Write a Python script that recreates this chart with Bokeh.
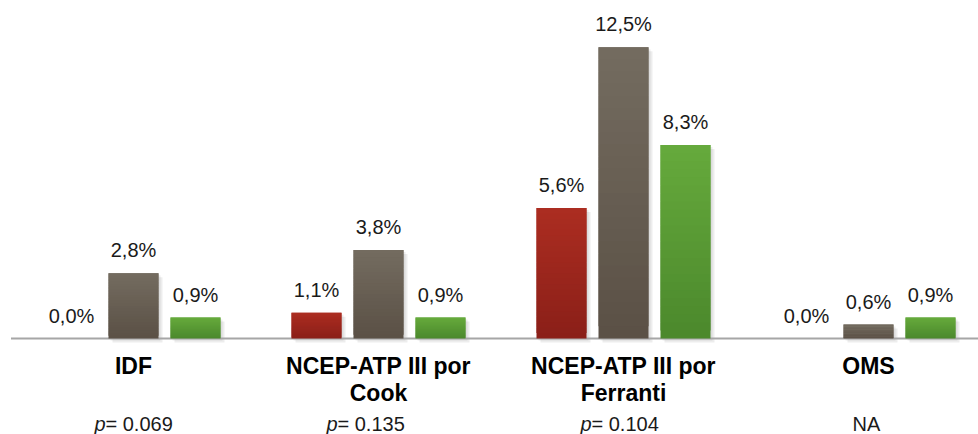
from bokeh.plotting import figure
from bokeh.models import Range1d, ColumnDataSource
from bokeh.core.properties import value
from bokeh.embed import file_html
from bokeh.resources import INLINE

# ---- data ----
categories = ["IDF", "NCEP-ATP III por\nCook", "NCEP-ATP III por\nFerranti", "OMS"]
series_red = [0.0, 1.1, 5.6, 0.0]
series_gray = [2.8, 3.8, 12.5, 0.6]
series_green = [0.9, 0.9, 8.3, 0.9]
value_labels_red = ["0,0%", "1,1%", "5,6%", "0,0%"]
value_labels_gray = ["2,8%", "3,8%", "12,5%", "0,6%"]
value_labels_green = ["0,9%", "0,9%", "8,3%", "0,9%"]
p_values = ["p= 0.069", "p= 0.135", "p= 0.104", "NA"]

# ---- style ----
W, H = 978, 434
PX_PER_CAT = 245.0
PX_PER_UNIT = 23.3
x0 = -0.5 - 10.5 / PX_PER_CAT
y_top = 338 / PX_PER_UNIT
y_bot = -(H - 338) / PX_PER_UNIT
TXT_SHIFT = -8  # compensate for renderer baseline placement
P_NUDGE = [0, -13, -4, -2]  # horizontal nudge (px) of the p-value notes

p = figure(width=W, height=H, output_backend="svg", toolbar_location=None,
           x_range=Range1d(x0, x0 + W / PX_PER_CAT), y_range=Range1d(y_bot, y_top),
           min_border=0, outline_line_color=None)
p.axis.visible = False
p.grid.visible = False
p.background_fill_color = "white"
p.border_fill_color = "white"

FONT = "Liberation Sans"
bar_w = 50 / PX_PER_CAT
step = 62 / PX_PER_CAT


def hexrgb(h):
    h = h.lstrip("#")
    return tuple(int(h[i:i + 2], 16) for i in (0, 2, 4))


def lerp(c1, c2, t):
    a, b = hexrgb(c1), hexrgb(c2)
    return "#%02x%02x%02x" % tuple(round(a[i] + (b[i] - a[i]) * t) for i in range(3))


series = [
    (series_red, value_labels_red, -step, "#8a1f18", "#ac2d21"),
    (series_gray, value_labels_gray, 0.0, "#5a5045", "#746c60"),
    (series_green, value_labels_green, step, "#4b882c", "#66aa3c"),
]

# soft shadows behind bars
for vals, labs, off, cbot, ctop in series:
    for d in (2, 4):
        dx = d / PX_PER_CAT
        dy = d / PX_PER_UNIT
        xs = [i + off for i, v in enumerate(vals) if v > 0]
        vs = [v for v in vals if v > 0]
        p.quad(left=[x - bar_w / 2 + dx for x in xs], right=[x + bar_w / 2 + dx for x in xs],
               top=[v - dy for v in vs], bottom=[-dy] * len(vs),
               fill_color="black", fill_alpha=0.07, line_color=None)

# baseline
p.segment(x0=[-0.5], y0=[0], x1=[x0 + W / PX_PER_CAT], y1=[0], line_color="#a6a6a6", line_width=2)

N = 24
for vals, labs, off, cbot, ctop in series:
    L, R, B, T, C = [], [], [], [], []
    for i, v in enumerate(vals):
        if v <= 0:
            continue
        for k in range(N):
            L.append(i + off - bar_w / 2)
            R.append(i + off + bar_w / 2)
            B.append(v * k / N)
            T.append(v * min(k + 2, N) / N)
            C.append(lerp(cbot, ctop, (k + 0.5) / N))
    p.quad(left=L, right=R, bottom=B, top=T, fill_color=C, line_color=None)
    src = ColumnDataSource(dict(x=[i + off for i in range(len(vals))], y=vals, t=labs))
    p.text(x="x", y="y", text="t", source=src, y_offset=-15 + TXT_SHIFT, text_align="center",
           text_baseline="alphabetic", text_font=value(FONT), text_font_size="20px",
           text_color="#1a1a1a")

# category labels
xs1, t1, xs2, t2 = [], [], [], []
for i, c in enumerate(categories):
    parts = c.split("\n")
    xs1.append(i); t1.append(parts[0])
    if len(parts) > 1:
        xs2.append(i); t2.append(parts[1])
p.text(x=xs1, y=[0] * len(xs1), text=t1, y_offset=35 + TXT_SHIFT, text_align="center",
       text_baseline="alphabetic", text_font=value(FONT), text_font_size="23px",
       text_font_style="bold", text_color="black")
p.text(x=xs2, y=[0] * len(xs2), text=t2, y_offset=62 + TXT_SHIFT, text_align="center",
       text_baseline="alphabetic", text_font=value(FONT), text_font_size="23px",
       text_font_style="bold", text_color="black")

# p-values
px, pdx, rx, rdx, rt, nx, ndx, nt = [], [], [], [], [], [], [], []
for i, s in enumerate(p_values):
    if s.startswith("p"):
        px.append(i); pdx.append(P_NUDGE[i] - 39)
        rx.append(i); rdx.append(P_NUDGE[i] - 28); rt.append(s[1:])
    else:
        nx.append(i); ndx.append(P_NUDGE[i]); nt.append(s)
PY = 93 + TXT_SHIFT
p.text(x=px, y=[0] * len(px), text=["p"] * len(px), x_offset=pdx, y_offset=PY,
       text_align="left", text_baseline="alphabetic", text_font=value(FONT),
       text_font_size="20px", text_font_style="italic", text_color="#1a1a1a")
p.text(x=rx, y=[0] * len(rx), text=rt, x_offset=rdx, y_offset=PY,
       text_align="left", text_baseline="alphabetic", text_font=value(FONT),
       text_font_size="20px", text_color="#1a1a1a")
p.text(x=nx, y=[0] * len(nx), text=nt, x_offset=ndx, y_offset=PY,
       text_align="center", text_baseline="alphabetic", text_font=value(FONT),
       text_font_size="20px", text_color="#1a1a1a")

open("out.html", "w").write(file_html(p, INLINE))
